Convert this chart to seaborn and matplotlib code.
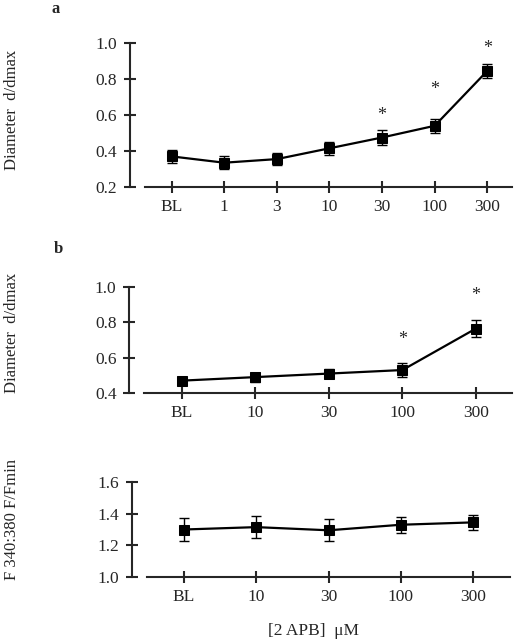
import numpy as np
import pandas as pd
import seaborn as sns
import matplotlib.pyplot as plt

# panel a
a_labels = ["BL", "1", "3", "10", "30", "100", "300"]
a_mean = [0.37, 0.335, 0.355, 0.415, 0.475, 0.54, 0.845]
a_err = [0.035, 0.035, 0.035, 0.035, 0.04, 0.04, 0.04]
a_star = {"30": 0.595, "100": 0.74, "300": 0.97}

# panel b
b_labels = ["BL", "10", "30", "100", "300"]
b_mean = [0.47, 0.49, 0.51, 0.53, 0.765]
b_err = [0.01, 0.025, 0.025, 0.04, 0.05]
b_star = {"100": 0.705, "300": 0.95}

# lower panel, ratio
c_labels = ["BL", "10", "30", "100", "300"]
c_mean = [1.30, 1.315, 1.295, 1.33, 1.345]
c_err = [0.075, 0.07, 0.07, 0.05, 0.045]

sns.set_style("ticks")
plt.rcParams["font.family"] = ["Liberation Serif", "DejaVu Serif"]
plt.rcParams["font.size"] = 12

fig = plt.figure(figsize=(5.15, 6.4), dpi=100)

W, H = 515, 640


def make_ax(left, right, top, bottom):
    return fig.add_axes([left / W, 1 - bottom / H, (right - left) / W, (bottom - top) / H])


def draw(ax, labels, mean, err, stars, ylim, yticks, xlim, xstart):
    df = pd.DataFrame({"x": np.arange(len(labels)), "y": mean})
    ax.errorbar(df["x"], df["y"], yerr=err, fmt="none", ecolor="black",
                elinewidth=1.0, capsize=3.5, capthick=1.0, zorder=2)
    sns.lineplot(data=df, x="x", y="y", ax=ax, color="black", lw=1.6,
                 marker="s", markersize=7.5, markeredgecolor="black", zorder=3)
    for lab, yv in stars.items():
        ax.text(labels.index(lab), yv, "*", ha="center", va="center", fontsize=13)
    ax.set_xlim(*xlim)
    ax.set_ylim(*ylim)
    ax.set_yticks(yticks)
    ax.set_yticklabels([f"{t:.1f}" for t in yticks], fontsize=12.5)
    ax.set_xticks(df["x"])
    ax.set_xticklabels(labels, fontsize=12.5)
    ax.set_xlabel("")
    ax.set_ylabel("")
    sns.despine(ax=ax)
    ax.spines["bottom"].set_bounds(xstart, xlim[1])
    for s in ("left", "bottom"):
        ax.spines[s].set_linewidth(1.5)
    ax.tick_params(axis="y", direction="inout", length=8, width=1.5, pad=5)
    ax.tick_params(axis="x", direction="inout", length=9, width=1.5, pad=4)


ax1 = make_ax(129.5, 512, 43, 187)
draw(ax1, a_labels, a_mean, a_err, a_star, (0.2, 1.0),
     [0.2, 0.4, 0.6, 0.8, 1.0], (-0.80, 6.47), -0.50)

ax2 = make_ax(129, 512, 287, 393)
draw(ax2, b_labels, b_mean, b_err, b_star, (0.4, 1.0),
     [0.4, 0.6, 0.8, 1.0], (-0.72, 4.49), -0.52)

ax3 = make_ax(132, 510, 482, 577)
draw(ax3, c_labels, c_mean, c_err, {}, (1.0, 1.6),
     [1.0, 1.2, 1.4, 1.6], (-0.72, 4.51), -0.51)

fig.text(12 / W, 1 - 110 / H, "Diameter  d/dmax", rotation=90, ha="center", va="center", fontsize=12)
fig.text(12 / W, 1 - 333 / H, "Diameter  d/dmax", rotation=90, ha="center", va="center", fontsize=12)
fig.text(12 / W, 1 - 519 / H, "F 340:380 F/Fmin", rotation=90, ha="center", va="center", fontsize=12)
fig.text(56 / W, 1 - 13 / H, "a", fontweight="bold", ha="center", va="baseline", fontsize=12)
fig.text(58 / W, 1 - 253 / H, "b", fontweight="bold", ha="center", va="baseline", fontsize=12)
fig.text(313 / W, 1 - 631 / H, "[2 APB]  \u03bcM", ha="center", va="center", fontsize=12.5)

fig.savefig("out.png", dpi=100)
